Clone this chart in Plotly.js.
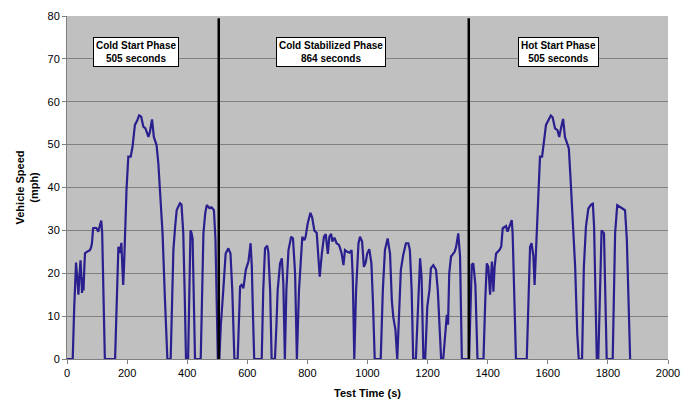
<!DOCTYPE html>
<html>
<head>
<meta charset="utf-8">
<script src="https://cdn.plot.ly/plotly-3.0.1.min.js"></script>
<style>html,body{margin:0;padding:0;background:#fff;}#chart{width:692px;height:401px;}</style>
</head>
<body>
<div id="chart"></div>
<script>
// Test time (s)
const testTime = [
0,19,24,30,34,38,41,45,48,50,52,55,58,60,66,76,80,83,87,93,98,101,104,107,109,114,117,121,126,
160,164,168,171,176,181,184,187,190,193,198,204,212,218,226,234,240,247,254,261,266,271,276,283,289,298,304,311,318,326,334,
345,349,354,360,365,370,376,381,387,392,396,403,407,411,414,418,422,426,445,449,454,460,465,474,481,489,494,498,502,507,
512,520,528,537,544,550,557,568,572,576,581,587,595,600,604,611,615,619,623,648,653,659,666,670,676,681,692,697,701,709,715,720,725,
730,737,746,752,759,765,772,779,783,790,794,801,810,816,823,831,836,841,848,855,861,868,873,879,883,890,897,905,909,914,920,925,933,940,947,951,956,
962,970,975,982,988,994,999,1006,1013,1018,1024,1044,1051,1058,1067,1075,1081,1086,1093,1099,1106,1111,1119,1128,1136,1141,1147,1152,1161,
1169,1175,1180,1186,1192,1199,1206,1211,1219,1228,1234,1239,1245,1252,1259,1264,1268,1272,1278,1285,1290,1295,1302,1308,1311,1314,1338,
1343,1347,1352,1359,1366,1386,1392,1397,1402,1408,1411,1414,1417,1419,1423,1428,1439,1445,1450,1461,1466,1474,1480,1483,1489,1494,
1530,1535,1541,1546,1552,1556,1563,1570,1574,1581,1587,1594,1602,1610,1616,1624,1632,1638,1645,1651,1657,1663,1670,1676,1683,1691,1698,1703,
1714,1720,1727,1735,1744,1750,1754,1759,1763,1768,1773,1779,1787,1792,1796,1816,1820,1824,1831,1840,1849,1857,1863,1868,1874,1877
];
// Vehicle speed (mph)
const vehicleSpeed = [
0,0,12,22.5,19,15,19,23,19,15.4,19,16,22,24.7,25,25.4,26,27,30.5,30.6,30.5,30,29.7,30.5,31,32.3,29.5,15,0,
0,12,22,26.2,24.7,27.1,22,17.3,22,29.5,39.4,47.2,47.2,49.5,54.6,55.7,56.8,56.5,54.2,53.8,52.5,51.8,53,55.9,51.8,49.9,45.6,37,29.3,13.8,0,
0,12,25.4,31,34.7,35.5,36.3,36,29.3,14,0,0,15,30,29.5,28,14,0,0,14,29.3,34,35.9,35.2,35.4,34.7,28,14,0,0,
8,16,24.6,25.8,24.6,16,0,0,10,16.9,17.3,16.5,20.8,22,22.8,27,21.6,10,0,0,16,25.8,26.4,25,16,0,0,8,16,22.3,23.5,17.5,0,
16,25.4,28.5,28.1,20,0,16,25.4,28.5,27.7,28.5,31.6,34.1,33,30,29.4,23.9,19.2,24.5,28.5,29.1,24.5,28.5,29.2,27.4,28.3,27,26.6,25.8,24.6,21.9,25.4,25,24.8,25.4,19,0,
16,27,28.5,27.4,21.5,22.5,24.6,25.6,22.3,13.6,0,0,16,25.4,28.1,24.6,13.6,9.7,6.8,0,13.6,20.8,24.3,27,27,25.4,16,0,0,
16,23.5,19,0,0,12.2,16,21.2,21.9,20.8,16,6.8,0,0,7.5,10.3,8,20,23.9,24.6,25,26.2,29.3,23.9,12,0,0,
14,22,22.3,17.3,0,0,14,22.3,21.5,15,19,22.7,19,15.7,21.5,24.6,25.4,26.2,30.5,31,29.7,31,32.4,29.3,14,0,
0,14,26.2,27,24,17.3,29.3,39.4,47.2,47.2,50.3,54.6,55.7,56.8,56.4,53.8,53.4,51.8,54.2,56,51.8,50.3,49.1,41.7,30.9,21.5,5.9,0,
0,21.5,30.9,35.1,36,36.2,30.9,14,0,0,15,30,29.3,14,0,0,14,29.3,35.9,35.5,35.1,34.7,28,14,0,0
];
// Phase boundaries (as drawn) and labels
const phaseLines = [505, 1337];
const phaseLabelX = [228, 877, 1635];
const phaseLabelY = [71.7, 71.7, 71.7];
const phaseLabels = ["Cold Start Phase<br>505 seconds", "Cold Stabilized Phase<br>864 seconds", "Hot Start Phase<br>505 seconds"];
const xTicks = [0,200,400,600,800,1000,1200,1400,1600,1800,2000];
const yTicks = [0,10,20,30,40,50,60,70,80];

const font = "Arial, 'Liberation Sans', sans-serif";

const trace = {
  x: testTime, y: vehicleSpeed, type: 'scatter', mode: 'lines',
  line: {color: '#2a1f8e', width: 2.2}, hoverinfo: 'skip'
};

const shapes = phaseLines.map(v => ({
  type: 'line', xref: 'x', yref: 'y', x0: v, x1: v, y0: 0, y1: 79.5,
  line: {color: '#000', width: 2.5}
}));

const annotations = phaseLabels.map((t, i) => ({
  x: phaseLabelX[i], y: phaseLabelY[i], xref: 'x', yref: 'y',
  text: '<b>' + t + '</b>', showarrow: false,
  font: {family: font, size: 10, color: '#000'},
  bgcolor: '#fff', bordercolor: '#000', borderwidth: 1, borderpad: 2
}));

const layout = {
  width: 692, height: 401,
  margin: {l: 67, r: 24, t: 16, b: 42},
  paper_bgcolor: '#fff', plot_bgcolor: '#c0c0c0',
  showlegend: false,
  font: {family: font, size: 11, color: '#000'},
  xaxis: {
    range: [0, 2000], tickvals: xTicks, ticktext: xTicks.map(String),
    showgrid: false, zeroline: false, showline: true, linecolor: '#808080', linewidth: 1,
    ticks: 'outside', ticklen: 4, tickcolor: '#808080',
    tickfont: {family: font, size: 11, color: '#000'},
    title: {text: '<b>Test Time (s)</b>', font: {family: font, size: 11, color: '#000'}, standoff: 11},
    automargin: false, fixedrange: true
  },
  yaxis: {
    range: [0, 80], tickvals: yTicks, ticktext: yTicks.map(String),
    showgrid: true, gridcolor: '#808080', gridwidth: 1, zeroline: false,
    showline: true, linecolor: '#808080', linewidth: 1,
    ticks: 'outside', ticklen: 4, tickcolor: '#808080',
    tickfont: {family: font, size: 11, color: '#000'},
    title: {text: '<b>Vehicle Speed<br>(mph)</b>', font: {family: font, size: 11, color: '#000'}, standoff: 6},
    automargin: false, fixedrange: true
  },
  shapes: shapes,
  annotations: annotations
};

Plotly.newPlot('chart', [trace], layout, {displayModeBar: false, staticPlot: true});
</script>
</body>
</html>
